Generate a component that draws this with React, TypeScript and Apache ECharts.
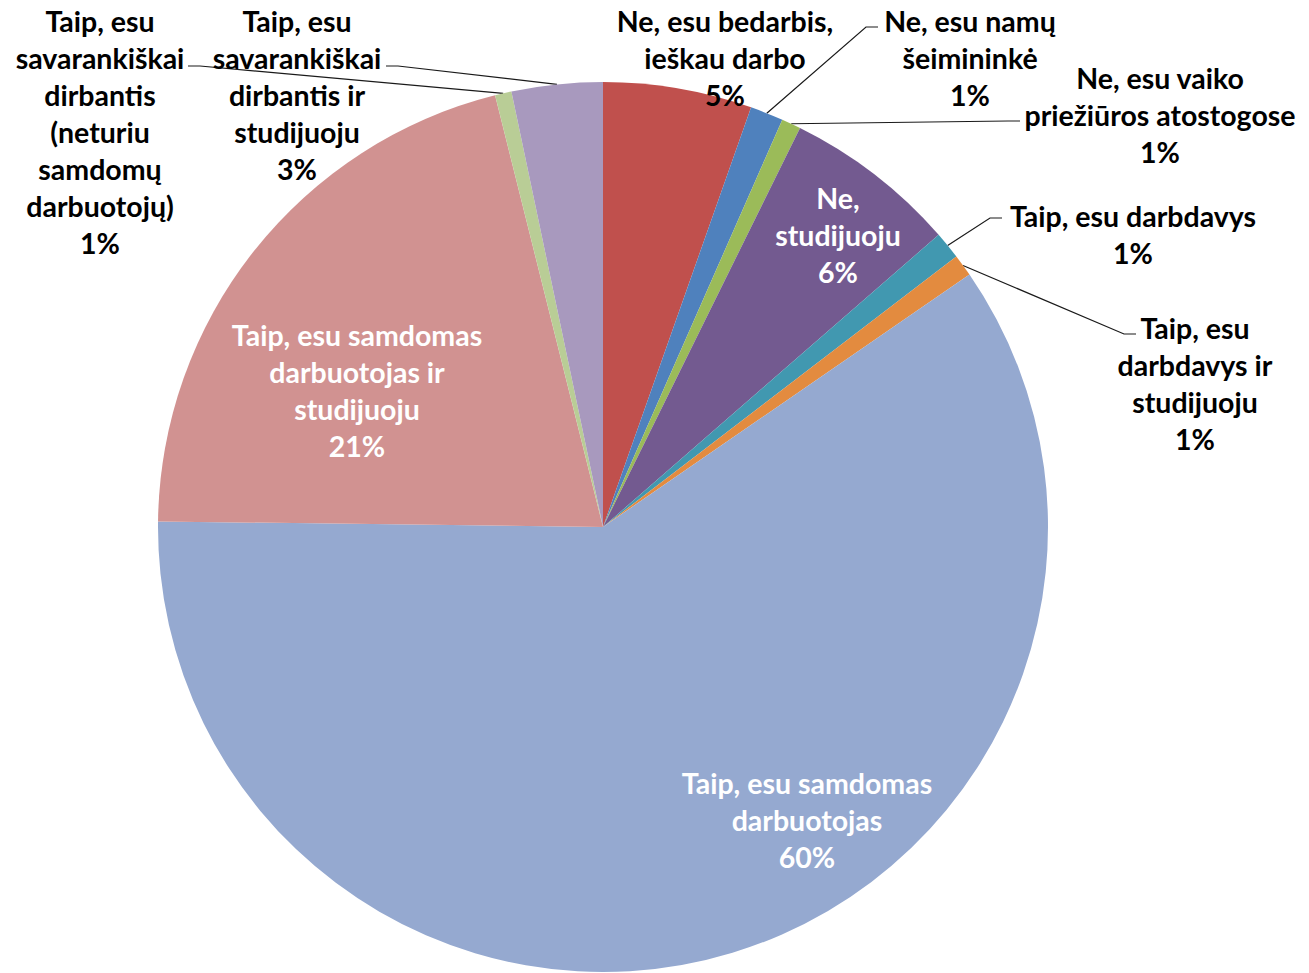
import React, { useEffect, useRef } from "react";
import * as echarts from "echarts";

// Categories (line breaks as printed in the chart labels)
const categories: string[] = [
  "Ne, esu bedarbis,\nieškau darbo",
  "Ne, esu namų\nšeimininkė",
  "Ne, esu vaiko\npriežiūros atostogose",
  "Ne,\nstudijuoju",
  "Taip, esu darbdavys",
  "Taip, esu\ndarbdavys ir\nstudijuoju",
  "Taip, esu samdomas\ndarbuotojas",
  "Taip, esu samdomas\ndarbuotojas ir\nstudijuoju",
  "Taip, esu\nsavarankiškai\ndirbantis\n(neturiu\nsamdomų\ndarbuotojų)",
  "Taip, esu\nsavarankiškai\ndirbantis ir\nstudijuoju",
];

// Shares in percent
const shares: number[] = [5.4, 1.2, 0.7, 6.3, 1.0, 0.8, 59.8, 20.9, 0.6, 3.3];

const sliceColors: string[] = [
  "#C0504D",
  "#4F81BD",
  "#9BBB59",
  "#735A90",
  "#4198B0",
  "#E38B3F",
  "#95A9D0",
  "#D19291",
  "#B9CD96",
  "#A899BE",
];

// Label placement (centre of label block) and leader-line attach point
type LabelPlace = { x: number; y: number; white?: boolean; attach?: [number, number, number] };
const labelPlaces: LabelPlace[] = [
  { x: 725, y: 58 },
  { x: 970, y: 58, attach: [878, 27, 1] },
  { x: 1160, y: 115, attach: [1020, 121, 1] },
  { x: 838, y: 235, white: true },
  { x: 1133, y: 234, attach: [1002, 218, 1] },
  { x: 1195, y: 383, attach: [1136, 334, 1] },
  { x: 807, y: 820, white: true },
  { x: 357, y: 390, white: true },
  { x: 100, y: 132, attach: [188, 66, -1] },
  { x: 297, y: 95, attach: [386, 66, -1] },
];

export default function App() {
  const ref = useRef<HTMLDivElement>(null);

  useEffect(() => {
    if (!ref.current) return;
    const chart = echarts.init(ref.current, undefined, { renderer: "svg" });

    const data = categories.map((name, i) => ({
      name,
      value: shares[i],
      itemStyle: { color: sliceColors[i] },
      label: { color: labelPlaces[i].white ? "#FFFFFF" : "#000000" },
      labelLine: { show: !!labelPlaces[i].attach },
    }));

    chart.setOption({
      animation: false,
      backgroundColor: "#FFFFFF",
      series: [
        {
          type: "pie",
          center: [603, 527],
          radius: 445,
          startAngle: 90,
          clockwise: true,
          avoidLabelOverlap: false,
          percentPrecision: 0,
          data,
          itemStyle: { borderWidth: 0 },
          label: {
            show: true,
            position: "outside",
            formatter: (p: any) => `${p.name}\n${p.percent}%`,
            fontFamily: "Lato",
            fontWeight: "bold",
            fontSize: 28.5,
            lineHeight: 37,
            align: "center",
          },
          labelLine: {
            show: true,
            length: 10,
            length2: 10,
            lineStyle: { color: "#1a1a1a", width: 1.2 },
          },
          labelLayout: (params: any) => {
            const L = labelPlaces[params.dataIndex];
            const res: any = {
              x: L.x,
              y: L.y,
              align: "center",
              verticalAlign: "middle",
            };
            if (L.attach && params.labelLinePoints) {
              const p0 = params.labelLinePoints[0];
              const [ax, ay, side] = L.attach;
              res.labelLinePoints = [p0, [ax - side * 12, ay], [ax, ay]];
            }
            return res;
          },
        },
      ],
    });

    return () => {
      chart.dispose();
    };
  }, []);

  return (
    <div
      ref={ref}
      style={{ position: "absolute", left: 0, top: 0, width: 1309, height: 973, background: "#fff" }}
    />
  );
}
